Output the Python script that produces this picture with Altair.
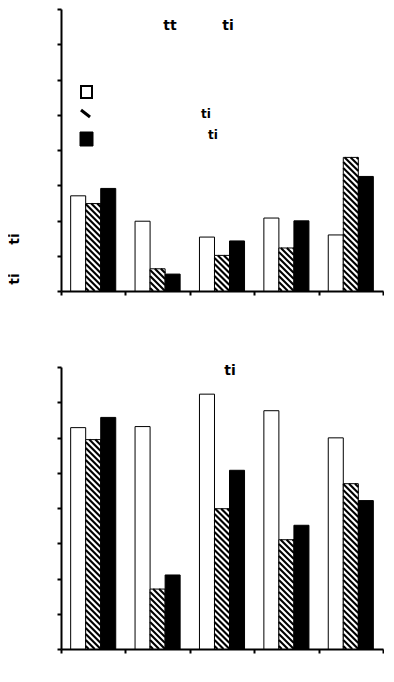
import altair as alt
import pandas as pd

# ---- data ----
groups = [0, 1, 2, 3, 4]
series = ["white", "hatched", "black"]

top_white = [2.70, 1.98, 1.53, 2.07, 1.59]
top_hatched = [2.48, 0.63, 1.01, 1.22, 3.79]
top_black = [2.91, 0.48, 1.42, 1.99, 3.25]

bot_white = [6.28, 6.31, 7.23, 6.76, 5.99]
bot_hatched = [5.94, 1.70, 3.98, 3.10, 4.69]
bot_black = [6.57, 2.10, 5.07, 3.51, 4.21]

y_ticks = [0, 1, 2, 3, 4, 5, 6, 7, 8]
x_ticks = [0, 1, 2, 3, 4, 5]

W, H = 322, 282
BAR = 0.7 / 3
FILL = {"white": "white", "hatched": "white", "black": "black"}
SX, SY = W / 5.0, H / 8.0
PERIOD = 6.0

AX = dict(labels=False, title=None, grid=False, tickSize=4, tickWidth=2,
          domainWidth=2, domainColor="black", tickColor="black", tickCount=20)


def bars_frame(vals):
    rows = []
    for s_i, (name, arr) in enumerate(zip(series, vals)):
        for g, v in zip(groups, arr):
            xl = g + 0.5 + (s_i - 1.5) * BAR
            rows.append(dict(x=xl, x2=xl + BAR, y=0.0, y2=v, fill=FILL[name]))
    return pd.DataFrame(rows)


def hatch_frame(arr):
    rows = []
    for g, v in zip(groups, arr):
        xl = g + 0.5 - 0.5 * BAR
        X0, X1, Y0, Y1 = xl * SX, (xl + BAR) * SX, 0.0, v * SY
        c = X0 + Y0 + PERIOD / 2
        while c < X1 + Y1:
            lo = max(X0, c - Y1)
            hi = min(X1, c - Y0)
            if lo < hi:
                rows.append(dict(hx=lo / SX, hy=(c - lo) / SY,
                                 hx2=hi / SX, hy2=(c - hi) / SY))
            c += PERIOD
    return pd.DataFrame(rows)


def panel(white, hatched, black, extra):
    xs = alt.Scale(domain=[0, 5], nice=False, zero=False)
    ys = alt.Scale(domain=[0, 8], nice=False, zero=False)
    bars = alt.Chart(bars_frame([white, hatched, black])).mark_rect(
        stroke="black", strokeWidth=1
    ).encode(
        x=alt.X("x:Q", scale=xs, axis=alt.Axis(values=x_ticks, **AX)),
        x2="x2:Q",
        y=alt.Y("y:Q", scale=ys, axis=alt.Axis(values=y_ticks, **AX)),
        y2="y2:Q",
        fill=alt.Fill("fill:N", scale=None),
    )
    hatch = alt.Chart(hatch_frame(hatched)).mark_rule(
        color="black", strokeWidth=2.1
    ).encode(
        x=alt.X("hx:Q", scale=xs), x2="hx2:Q",
        y=alt.Y("hy:Q", scale=ys), y2="hy2:Q",
    )
    return alt.layer(bars, hatch, *extra).properties(width=W, height=H)


def label(txt, x, y, size=14, angle=0):
    return alt.Chart(pd.DataFrame({"t": [txt]})).mark_text(
        font="DejaVu Sans", fontWeight="bold", fontSize=size, color="black",
        align="center", baseline="middle", angle=angle,
    ).encode(x=alt.value(x), y=alt.value(y), text="t:N")


one = pd.DataFrame({"a": [0]})
leg_white = alt.Chart(one).mark_rect(fill="white", stroke="black", strokeWidth=2).encode(
    x=alt.value(20), x2=alt.value(31), y=alt.value(77), y2=alt.value(89))
leg_black = alt.Chart(one).mark_rect(fill="black", stroke="black", strokeWidth=1).encode(
    x=alt.value(19), x2=alt.value(32), y=alt.value(123), y2=alt.value(137))
leg_hatch = alt.Chart(one).mark_rule(color="black", strokeWidth=3).encode(
    x=alt.value(20), x2=alt.value(29), y=alt.value(101), y2=alt.value(108))

top_extra = [
    label("tt", 109, 17), label("ti", 167, 17),
    leg_white, leg_hatch, leg_black,
    label("ti", 145, 105, size=12), label("ti", 152, 126, size=12),
    label("ti", -46, 230, angle=270), label("ti", -46, 270, angle=270),
]
bot_extra = [label("ti", 169, 4)]

top = panel(top_white, top_hatched, top_black, top_extra)
bot = panel(bot_white, bot_hatched, bot_black, bot_extra)

chart = alt.vconcat(top, bot, spacing=68).configure_view(stroke=None).properties(
    padding={"left": 0, "top": 0, "right": 0, "bottom": 0}
)

chart.save("out.html", embed_options={"renderer": "svg", "actions": False})
